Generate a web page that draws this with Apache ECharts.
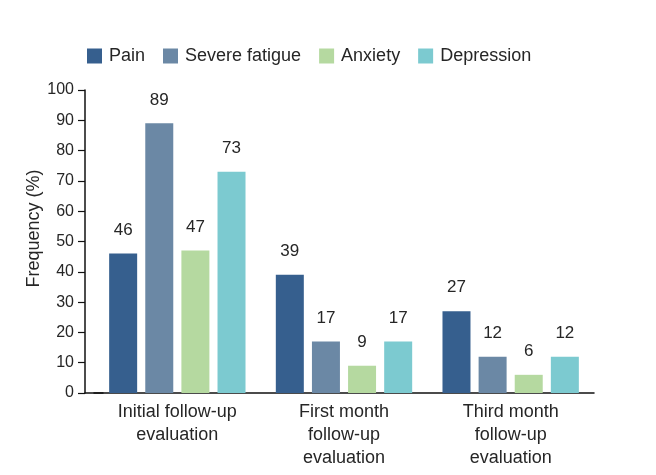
<!DOCTYPE html>
<html><head><meta charset="utf-8">
<script src="https://cdn.jsdelivr.net/npm/echarts@6/dist/echarts.min.js"></script>
<style>html,body{margin:0;padding:0;background:#fff}#c{width:656px;height:475px}</style>
</head><body><div id="c"></div>
<script>
const categories = ["Initial follow-up\nevaluation", "First month\nfollow-up\nevaluation", "Third month\nfollow-up\nevaluation"];
const seriesNames = ["Pain", "Severe fatigue", "Anxiety", "Depression"];
const pain = [46, 39, 27];
const severeFatigue = [89, 17, 12];
const anxiety = [47, 9, 6];
const depression = [73, 17, 12];
const colors = ["#365f8e", "#6b88a5", "#b5d9a0", "#7ccad0"];
const values = [pain, severeFatigue, anxiety, depression];

const chart = echarts.init(document.getElementById('c'));
const font = '"Liberation Sans", Arial, sans-serif';
const txt = '#262626';
chart.setOption({
  animation: false,
  textStyle: {fontFamily: font},
  legend: {
    left: 82, top: 42, itemWidth: 15, itemHeight: 15, itemGap: 18,
    icon: 'rect',
    textStyle: {fontSize: 18, color: txt, fontFamily: font, padding: [0, 0, 0, 2]},
    data: seriesNames
  },
  grid: {left: 94, right: 62, top: 90, bottom: 82, containLabel: false},
  xAxis: {
    type: 'category', data: categories,
    axisLine: {
      lineStyle: {color: '#111', width: 1.5},
      symbol: ['rect', 'none'], symbolSize: [1.5, 19]
    },
    axisTick: {show: false},
    axisLabel: {fontSize: 18, color: txt, lineHeight: 23, margin: 8, fontFamily: font}
  },
  yAxis: {
    type: 'value', min: 0, max: 100, interval: 10, offset: 9,
    name: 'Frequency (%)', nameLocation: 'middle', nameGap: 42, nameMoveOverlap: false,
    nameTextStyle: {fontSize: 18, color: txt, fontFamily: font, padding: [0, 0, 0, 26]},
    axisLine: {show: true, lineStyle: {color: '#111', width: 1.5}},
    axisTick: {show: true, length: 7, lineStyle: {color: '#111', width: 1.2}},
    splitLine: {show: false},
    axisLabel: {fontSize: 16, color: txt, margin: 11, fontFamily: font}
  },
  series: seriesNames.map((n, i) => ({
    name: n, type: 'bar', data: values[i],
    barWidth: 28, barGap: '29%',
    itemStyle: {color: colors[i]},
    label: {show: true, position: 'top', distance: 15, fontSize: 17, color: txt, fontFamily: font}
  }))
});
</script></body></html>
